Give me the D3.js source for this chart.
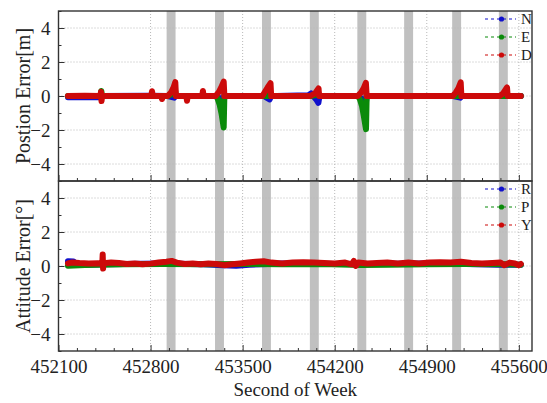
<!DOCTYPE html>
<html><head><meta charset="utf-8">
<script src="https://cdn.jsdelivr.net/npm/d3@7"></script>
<style>
body{margin:0;background:#fff;}
svg, svg text{font-family:"Times New Roman","Liberation Serif","DejaVu Serif",serif !important;}
</style></head>
<body>
<svg id="chart" width="547" height="403"></svg>
<script>
// ---- data ----
const xTicks = [452100, 452800, 453500, 454200, 454900, 455600];
const yTicks = [-4, -2, 0, 2, 4];
const outageStarts = [452922, 453290, 453647, 454011, 454372, 454728, 455093, 455448];
const outageWidth = 68;
const posLabels = ["N", "E", "D"];
const attLabels = ["R", "P", "Y"];
const colors = ["#1010cc", "#0a8a0a", "#cc0a0a"];

const posN = [[452172,-0.08],[452420,-0.08],[452430,0],[452800,0.02],[452930,0],[452980,-0.1],[452990,0],[453300,0],[453320,-0.1],[453340,-0.3],[453355,-0.55],[453361,0],[453660,0],[453705,-0.2],[453718,0],[453760,0],[454000,0.05],[454020,0.15],[454060,-0.2],[454076,-0.4],[454084,0],[454380,0],[454410,-0.2],[454435,-0.55],[454443,0],[455100,0],[455155,-0.1],[455164,0],[455615,0]];
const posE = [[452172,0],[452420,0],[452425,0.3],[452432,0],[452930,0],[452970,0.15],[452985,0.4],[452993,0],[453298,0],[453310,-0.15],[453325,-0.5],[453340,-1.05],[453356,-1.85],[453361,0],[454020,0],[454070,0.1],[454084,0],[454378,0],[454392,-0.2],[454408,-0.6],[454422,-1.2],[454438,-1.95],[454443,0],[455615,0]];
const posD = [[452172,0],[452300,0.02],[452418,0],[452423,0.25],[452427,-0.3],[452432,0],[452805,0],[452811,0.28],[452817,0],[452882,0],[452887,-0.18],[452892,0],[452930,0],[452955,0.2],[452975,0.5],[452988,0.82],[452993,0],[453072,0],[453077,-0.28],[453082,0],[453193,0],[453198,0.3],[453203,0],[453295,0],[453320,0.25],[453340,0.55],[453356,0.85],[453361,0],[453650,0],[453670,0.25],[453690,0.5],[453712,0.75],[453717,0],[454015,0],[454050,0.15],[454077,0.45],[454082,0],[454375,0],[454400,0.2],[454420,0.45],[454437,0.78],[454443,0],[455098,0],[455120,0.2],[455140,0.45],[455158,0.8],[455163,0],[455455,0],[455480,0.15],[455510,0.5],[455515,0],[455615,0]];

const attR = [[452172,0.28],[452215,0.26],[452240,0.1],[452300,0.08],[452450,0.1],[452600,0.12],[452900,0.14],[453200,0.1],[453350,0.04],[453450,0.02],[453550,0.08],[453800,0.14],[454200,0.12],[454500,0.12],[454900,0.14],[455200,0.12],[455450,0.08],[455615,0.08]];
const attP = [[452172,0.02],[452300,0.06],[452600,0.1],[452900,0.12],[453200,0.1],[453500,0.12],[453800,0.1],[454100,0.12],[454400,0.06],[454600,0.08],[454900,0.1],[455200,0.12],[455500,0.1],[455615,0.08]];
const attY = [[452172,0.15],[452200,0.2],[452260,0.17],[452330,0.15],[452400,0.16],[452433,0.15],[452436,0.68],[452439,-0.15],[452442,0.16],[452500,0.2],[452560,0.18],[452620,0.12],[452680,0.15],[452740,0.1],[452800,0.14],[452860,0.2],[452920,0.25],[452960,0.3],[453000,0.2],[453060,0.12],[453120,0.15],[453180,0.1],[453240,0.15],[453300,0.12],[453360,0.05],[453420,0.1],[453480,0.15],[453540,0.2],[453600,0.25],[453660,0.28],[453720,0.2],[453800,0.15],[453880,0.2],[453960,0.22],[454040,0.2],[454120,0.18],[454200,0.15],[454280,0.2],[454330,0.1],[454345,0.3],[454360,0.0],[454380,0.2],[454450,0.15],[454520,0.18],[454600,0.2],[454680,0.15],[454760,0.2],[454840,0.15],[454920,0.2],[455000,0.22],[455080,0.2],[455160,0.25],[455240,0.18],[455320,0.15],[455400,0.18],[455460,0.2],[455490,0.05],[455530,0.2],[455570,0.15],[455600,0.05],[455615,0.12]];

// ---- layout ----
const FONT = '"Times New Roman","Liberation Serif","DejaVu Serif",serif';
const svg = d3.select("#chart");
const L = 58.5, R = 532;
const panels = [
  {top: 11, bottom: 181, title: "Postion Error[m]", labels: posLabels, series: [posN, posE, posD], xLabels: false},
  {top: 181, bottom: 351, title: "Attitude Error[°]", labels: attLabels, series: [attR, attP, attY], xLabels: true}
];
const x = d3.scaleLinear().domain([452100, 455700]).range([L, R]);
const minorX = d3.range(452100, 455700, 140);
const minorY = d3.range(-5, 6, 1);
const frameColor = "#333";

panels.forEach((p, pi) => {
  const y = d3.scaleLinear().domain([-5, 5]).range([p.bottom, p.top]);
  const g = svg.append("g");
  const clipId = "clip" + pi;
  svg.append("clipPath").attr("id", clipId).append("rect")
    .attr("x", L).attr("y", p.top).attr("width", R - L).attr("height", p.bottom - p.top);

  // outage bands
  g.selectAll("rect.band").data(outageStarts).join("rect")
    .attr("x", d => x(d)).attr("y", p.top)
    .attr("width", d => x(d + outageWidth) - x(d)).attr("height", p.bottom - p.top)
    .attr("fill", "#c0c0c0");

  // grid
  g.selectAll("line.gx").data(xTicks.filter(t => x(t) > L + 1)).join("line")
    .attr("x1", d => x(d)).attr("x2", d => x(d)).attr("y1", p.top).attr("y2", p.bottom)
    .attr("stroke", "#b8b8b8").attr("stroke-width", 1).attr("stroke-dasharray", "1,2");
  g.selectAll("line.gy").data(yTicks).join("line")
    .attr("x1", L).attr("x2", R).attr("y1", d => y(d)).attr("y2", d => y(d))
    .attr("stroke", "#b8b8b8").attr("stroke-width", 1).attr("stroke-dasharray", "1,2");

  // data
  const line = d3.line().x(d => x(d[0])).y(d => y(d[1]));
  const dg = g.append("g").attr("clip-path", `url(#${clipId})`);
  p.series.forEach((s, i) => {
    dg.append("path").datum(s).attr("d", line)
      .attr("fill", "none").attr("stroke", colors[i]).attr("stroke-width", 6)
      .attr("stroke-linejoin", "round").attr("stroke-linecap", "round");
  });

  // axes
  const ax = d3.axisLeft(y).tickValues(yTicks).tickSize(-6).tickPadding(10).tickFormat(d3.format("d"));
  const ag = g.append("g").attr("transform", `translate(${L},0)`).call(ax);
  ag.attr("font-family", FONT).attr("font-size", 19);
  ag.select(".domain").remove();
  ag.selectAll("text").attr("fill", "#222").attr("dx", 2);
  ag.selectAll("line").attr("stroke", frameColor);
  const amy = d3.axisLeft(y).tickValues(minorY.filter(v => v % 2 !== 0)).tickSize(-3).tickFormat("");
  const amg = g.append("g").attr("transform", `translate(${L},0)`).call(amy);
  amg.select(".domain").remove();
  amg.selectAll("line").attr("stroke", frameColor);

  const bx = d3.axisBottom(x).tickValues(xTicks).tickSize(-6).tickPadding(9).tickFormat(p.xLabels ? d3.format("d") : "");
  const bg = g.append("g").attr("transform", `translate(0,${p.bottom})`).call(bx);
  bg.attr("font-family", FONT).attr("font-size", 19);
  bg.select(".domain").remove();
  bg.selectAll("text").attr("fill", "#222");
  bg.selectAll("line").attr("stroke", frameColor);
  const bmx = d3.axisBottom(x).tickValues(minorX.filter(v => (v - 452100) % 700 !== 0)).tickSize(-3).tickFormat("");
  const bmg = g.append("g").attr("transform", `translate(0,${p.bottom})`).call(bmx);
  bmg.select(".domain").remove();
  bmg.selectAll("line").attr("stroke", frameColor);

  // frame
  g.append("rect").attr("x", L).attr("y", p.top).attr("width", R - L).attr("height", p.bottom - p.top)
    .attr("fill", "none").attr("stroke", frameColor).attr("stroke-width", 1.4);

  // y title
  svg.append("text").attr("transform", `translate(23,${(p.top + p.bottom) / 2}) rotate(-90)`)
    .attr("text-anchor", "middle").attr("dominant-baseline", "central")
    .attr("font-family", FONT).attr("font-size", 20).attr("fill", "#222").text(p.title);

  // legend
  const lg = svg.append("g");
  p.labels.forEach((lab, i) => {
    const ly = p.top + 8 + i * 18;
    lg.append("line").attr("x1", 485).attr("x2", 516).attr("y1", ly).attr("y2", ly)
      .attr("stroke", colors[i]).attr("stroke-width", 1.2).attr("stroke-dasharray", "3,3");
    lg.append("circle").attr("cx", 501.5).attr("cy", ly).attr("r", 2.6).attr("fill", colors[i]);
    lg.append("text").attr("x", 521).attr("y", ly).attr("dominant-baseline", "central")
      .attr("font-family", FONT).attr("font-size", 15).attr("fill", "#222").text(lab);
  });
});

svg.append("text").attr("x", (L + R) / 2).attr("y", 396).attr("text-anchor", "middle")
  .attr("font-family", FONT).attr("font-size", 19).attr("fill", "#222").text("Second of Week");
</script>
</body></html>
